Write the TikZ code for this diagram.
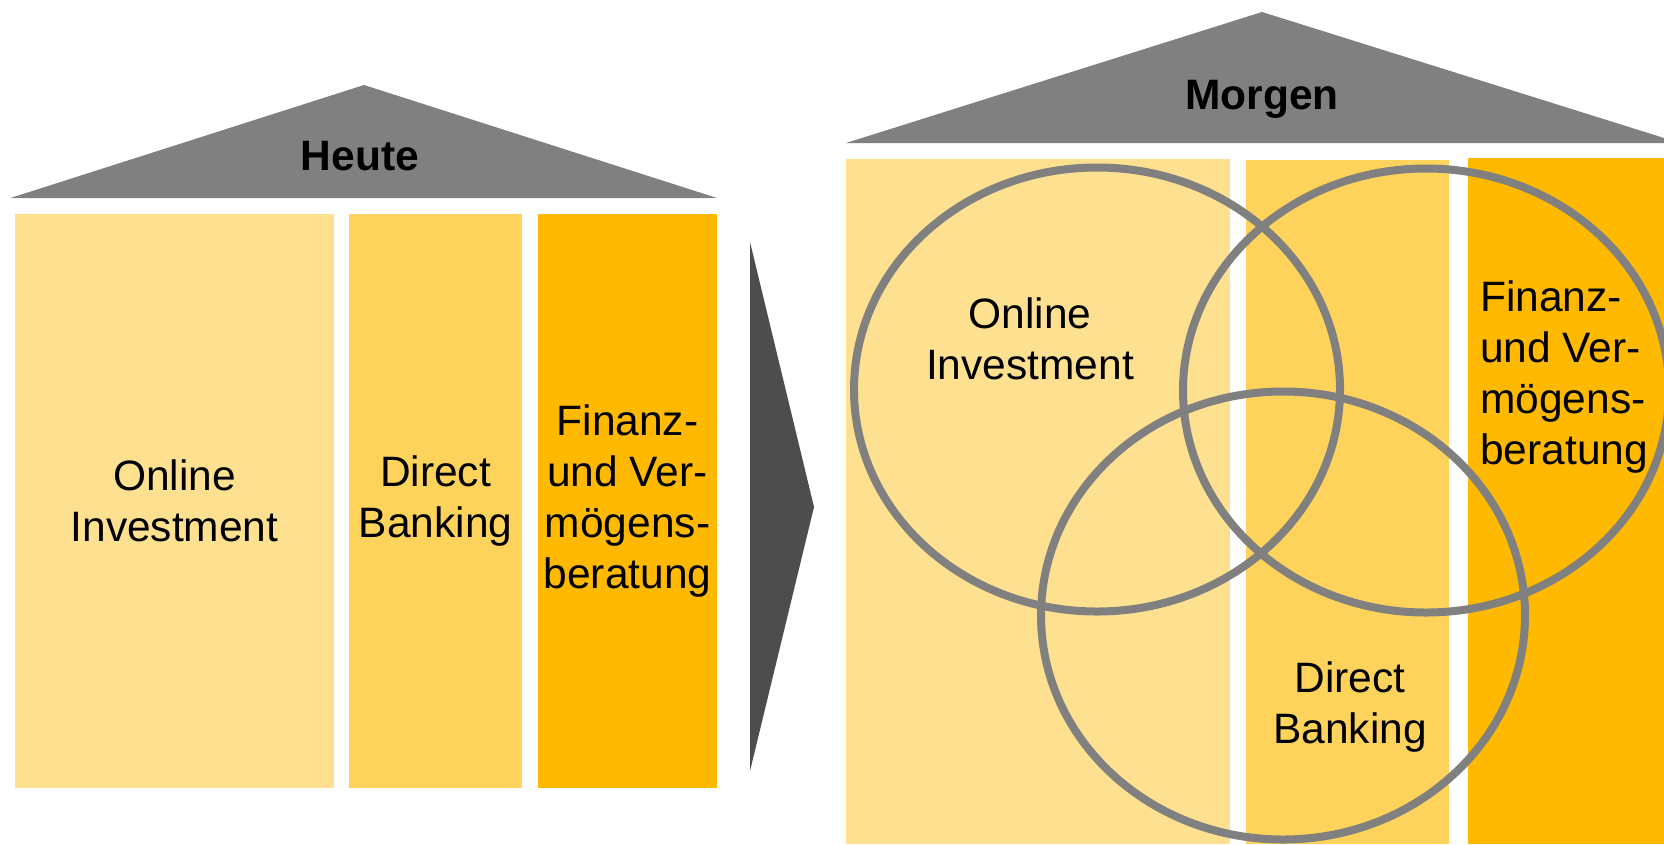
\documentclass[tikz,border=0pt]{standalone}
\usepackage{fontspec}
\setmainfont{Liberation Sans}
\definecolor{pillarA}{RGB}{254,224,145}
\definecolor{pillarB}{RGB}{254,211,91}
\definecolor{pillarC}{RGB}{254,185,0}
\definecolor{roofgray}{RGB}{128,128,128}
\definecolor{arrowgray}{RGB}{77,77,77}
\tikzset{
  pillar/.style={inner sep=0pt, minimum height=574pt, align=center,
    font=\fontsize{42.5}{51}\selectfont},
  lbl/.style={inner sep=0pt, font=\fontsize{42.5}{51}\selectfont},
  title/.style={font=\fontsize{42.5}{51}\selectfont\bfseries},
  ring/.style={draw=roofgray, line width=8pt},
}
\begin{document}
\begin{tikzpicture}[x=1pt,y=-1pt]
\useasboundingbox (0,0) rectangle (1664,844);
\clip (0,0) rectangle (1664,844);
% heute
\fill[roofgray] (10.5,198) -- (364,85) -- (717,198) -- cycle;
\node[title] (heute) at (360,156) {Heute};
\node[pillar, fill=pillarA, minimum width=319pt] (oi) at (174.5,501) {Online\\Investment};
\node[pillar, fill=pillarB, minimum width=173pt] (db) at (435.5,501) {Direct\\Banking};
\node[pillar, fill=pillarC, minimum width=179pt] (fv) at (627.5,501) {Finanz-\\und Ver-\\mögens-\\beratung};
% pfeil
\fill[arrowgray] (750,242) -- (814,507) -- (750,771) -- cycle;
% morgen
\fill[roofgray] (846,143) -- (1262,12) -- (1680,143) -- cycle;
\node[title] (morgen) at (1262,99) {Morgen};
\fill[pillarA] (846,159) rectangle (1230,844);
\fill[pillarB] (1246,160) rectangle (1449,844);
\fill[pillarC] (1468,158) rectangle (1664,844);
\draw[ring] (1097,389.5) ellipse [x radius=243pt, y radius=222pt];
\draw[ring] (1426,390.5) ellipse [x radius=243pt, y radius=222pt];
\draw[ring] (1283,615.5) ellipse [x radius=242pt, y radius=224pt];
\node[lbl, align=center] (oi2) at (1030,339) {Online\\Investment};
\node[lbl, align=center] (db2) at (1350,707) {Direct\\Banking};
\node[lbl, align=left, anchor=west] (fv2) at (1480,377) {Finanz-\\und Ver-\\mögens-\\beratung};
\end{tikzpicture}
\end{document}
